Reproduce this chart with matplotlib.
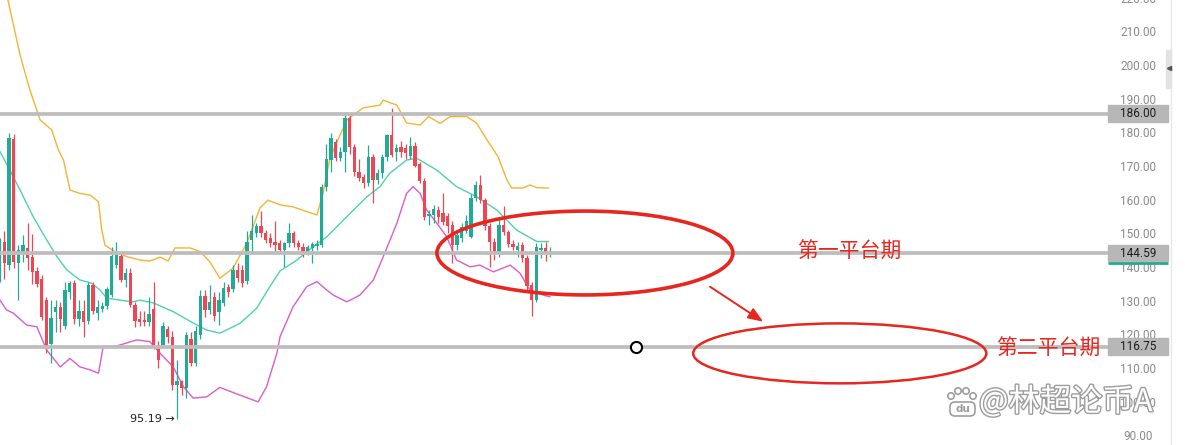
import numpy as np
import matplotlib
matplotlib.use("Agg")
import matplotlib.pyplot as plt
from matplotlib.patches import Ellipse, Rectangle, Circle, FancyBboxPatch
from matplotlib.transforms import IdentityTransform
import matplotlib.patheffects as pe

# ---------------- data ----------------
opens = [137.2, 148.0, 141.0, 178.5, 141.7, 144.5, 146.0, 143.3, 139.4, 136.9,
         130.7, 117.5, 127.0, 128.5, 122.8, 133.1, 135.7, 125.0, 127.3, 124.5,
         135.0, 126.8, 128.0, 129.0, 132.2, 141.0, 143.6, 136.6, 138.6, 129.2,
         125.0, 124.8, 124.0, 128.0, 117.3, 117.4, 122.0, 119.8, 105.5, 106.5,
         104.5, 119.0, 112.0, 120.3, 131.7, 127.7, 131.5, 127.2, 129.8, 134.5,
         134.0, 139.6, 139.5, 136.2, 148.5, 150.5, 152.5, 150.5, 149.0, 148.0,
         147.5, 145.5, 147.5, 150.5, 147.5, 146.5, 145.0, 146.0, 146.8, 147.0,
         164.3, 172.3, 177.7, 172.8, 174.7, 184.6, 176.2, 168.8, 167.3, 165.3,
         173.2, 166.3, 168.3, 173.2, 179.5, 174.7, 176.2, 175.7, 173.5, 176.5,
         171.0, 166.0, 155.5, 156.0, 157.5, 156.5, 155.5, 153.0, 147.0, 149.0,
         151.2, 149.5, 160.9, 164.8, 160.4, 152.5, 148.0, 144.6, 153.0, 150.7,
         147.4, 145.5, 147.0, 143.1, 135.2, 130.7, 145.5, 146.2, 144.3]
highs = [149.0, 151.0, 180.2, 180.0, 147.0, 150.0, 153.5, 150.3, 140.5, 138.0,
         131.5, 130.7, 130.7, 130.0, 135.9, 136.2, 136.5, 130.5, 130.5, 136.0,
         136.0, 130.5, 130.0, 134.5, 146.5, 148.0, 145.0, 140.0, 140.0, 130.0,
         127.5, 127.5, 131.5, 136.1, 118.5, 124.0, 123.0, 121.5, 112.8, 107.0,
         121.0, 121.0, 123.0, 133.5, 133.5, 135.0, 133.0, 133.0, 136.0, 135.5,
         141.0, 141.5, 141.0, 151.0, 156.0, 153.5, 157.0, 151.5, 150.5, 154.0,
         148.5, 148.0, 153.5, 151.0, 148.5, 147.5, 147.0, 148.0, 148.5, 165.0,
         177.0, 180.2, 178.5, 176.0, 185.5, 185.5, 177.0, 172.5, 168.0, 176.7,
         174.0, 169.5, 174.0, 180.0, 187.6, 177.0, 178.0, 177.0, 179.0, 177.5,
         171.5, 167.0, 157.5, 159.0, 158.5, 162.5, 156.5, 154.0, 151.5, 153.5,
         156.0, 162.0, 166.0, 167.8, 161.0, 153.5, 149.0, 155.0, 158.5, 151.5,
         148.5, 148.0, 148.0, 144.0, 136.0, 147.5, 147.5, 147.8, 146.5]
lows = [136.0, 137.0, 139.6, 140.2, 130.7, 142.0, 139.6, 135.5, 134.5, 124.7,
        115.0, 112.0, 121.0, 121.0, 122.0, 131.0, 123.5, 123.0, 119.6, 123.5,
        126.5, 124.8, 127.0, 128.0, 131.5, 140.0, 135.9, 134.5, 128.5, 122.5,
        123.0, 123.0, 123.0, 116.0, 110.5, 116.5, 118.0, 104.0, 95.19, 102.5,
        101.6, 111.0, 111.0, 119.0, 125.5, 126.5, 124.5, 123.2, 129.0, 131.5,
        133.0, 136.0, 134.5, 135.5, 145.0, 149.5, 149.5, 147.5, 146.5, 145.0,
        145.0, 140.5, 146.5, 146.5, 145.5, 143.5, 144.0, 141.5, 145.5, 146.5,
        163.0, 168.8, 172.0, 172.0, 168.7, 174.0, 167.5, 166.0, 164.0, 164.5,
        159.5, 165.0, 167.0, 172.0, 173.0, 172.0, 173.0, 172.5, 172.5, 170.0,
        165.5, 154.5, 152.9, 153.5, 153.5, 153.0, 150.5, 141.5, 145.5, 148.0,
        150.5, 149.0, 160.0, 159.5, 151.5, 140.5, 142.5, 143.5, 150.0, 146.5,
        145.5, 143.5, 142.0, 133.5, 125.8, 130.0, 143.0, 142.3, 143.5]
closes = [148.1, 141.7, 178.7, 142.0, 145.5, 147.0, 143.0, 138.9, 135.5, 125.7,
          116.9, 125.4, 128.5, 125.0, 133.6, 135.7, 124.9, 127.5, 124.0, 135.0,
          127.5, 128.6, 129.0, 134.0, 143.6, 143.9, 136.6, 138.6, 129.2, 124.3,
          124.0, 124.2, 126.5, 117.2, 112.8, 122.8, 119.6, 105.5, 106.5, 104.5,
          120.3, 112.0, 121.5, 131.7, 127.8, 130.2, 125.8, 130.7, 134.3, 133.0,
          139.5, 137.2, 135.7, 148.0, 151.0, 152.5, 150.5, 148.5, 147.5, 147.0,
          145.5, 147.5, 150.5, 147.5, 146.4, 145.0, 146.5, 147.4, 147.4, 164.3,
          172.5, 178.7, 172.8, 174.7, 184.6, 176.2, 168.8, 167.0, 165.3, 173.2,
          166.3, 168.3, 173.2, 179.5, 173.7, 175.7, 174.7, 174.2, 176.5, 170.5,
          166.0, 155.4, 156.3, 157.8, 155.2, 153.9, 152.7, 147.0, 150.0, 152.4,
          154.0, 160.9, 164.8, 160.4, 152.5, 148.0, 145.0, 153.0, 150.7, 147.4,
          146.5, 146.8, 143.1, 134.7, 130.7, 146.5, 146.2, 144.4, 144.59]

# Bollinger bands (bar position, price)
upper_x = [0.1, 1.8, 4.4, 6.5, 8.7, 11.2, 12.6, 13.7, 15.1, 17.2, 19.4, 21.2, 21.9, 22.6,
           24.7, 27.3, 30.1, 32.2, 34.4, 36.1, 37.6, 40.8, 43.0, 45.1, 47.2, 50.0, 53.0,
           55.8, 57.5, 60.1, 62.9, 65.8, 68.0, 69.3, 70.8, 72.2, 74.4, 77.9, 81.5, 82.2,
           85.1, 87.2, 90.1, 91.9, 94.4, 96.5, 100.1, 102.2, 104.4, 106.8, 108.7, 109.7,
           112.1, 113.6, 115.1, 117.6]
upper_y = [225.7, 219.7, 203.4, 193.0, 184.1, 181.1, 175.2, 172.2, 163.3, 162.3, 161.8,
           159.8, 151.4, 146.9, 145.0, 143.5, 142.5, 142.2, 143.4, 142.2, 146.1, 146.1,
           145.0, 141.9, 137.1, 140.1, 147.6, 158.0, 160.3, 158.9, 158.3, 156.9, 155.9,
           162.4, 172.8, 177.3, 184.1, 187.7, 188.5, 190.0, 188.5, 183.2, 182.6, 185.1,
           183.1, 185.1, 185.1, 183.2, 178.2, 173.2, 166.3, 163.9, 163.9, 164.8, 164.0,
           163.9]
middle_x = [0.1, 2.2, 4.4, 7.2, 10.1, 12.3, 14.4, 17.2, 19.8, 21.5, 23.0, 25.8, 28.7, 30.1,
            32.9, 37.2, 41.5, 44.4, 47.2, 51.5, 55.1, 57.9, 60.1, 63.7, 67.2, 70.1, 74.4,
            78.7, 81.5, 83.6, 87.2, 89.4, 93.7, 97.9, 102.2, 106.5, 110.8, 115.1, 117.6]
middle_y = [174.7, 169.2, 163.3, 155.4, 148.5, 143.5, 139.6, 136.6, 135.6, 133.6, 131.2,
            130.6, 130.1, 130.6, 129.8, 127.2, 123.8, 121.7, 120.8, 123.7, 128.2, 134.6,
            139.3, 142.5, 146.5, 149.4, 155.4, 161.3, 164.3, 168.3, 172.2, 172.7, 169.2,
            164.3, 161.3, 157.4, 151.4, 148.0, 148.0]
lower_x = [0.1, 1.5, 3.0, 5.8, 8.0, 10.1, 13.0, 15.1, 17.2, 19.4, 21.2, 22.2, 25.1, 29.4,
           32.2, 34.4, 37.2, 39.4, 41.5, 44.4, 47.2, 51.5, 55.4, 57.2, 59.4, 60.1, 62.9,
           65.8, 68.0, 70.1, 71.5, 74.4, 77.2, 80.1, 82.2, 85.1, 87.2, 88.6, 90.1, 91.5,
           93.7, 95.8, 97.9, 100.8, 102.9, 105.8, 109.4, 111.5, 113.6, 116.5, 117.9]
lower_y = [130.6, 127.7, 126.7, 123.2, 122.7, 115.8, 110.8, 113.3, 110.8, 109.9, 108.9,
           116.8, 117.0, 118.8, 118.3, 114.8, 110.8, 104.9, 101.5, 101.9, 104.7, 102.4,
           100.4, 104.9, 114.8, 119.8, 128.7, 134.6, 136.1, 133.6, 132.1, 130.1, 132.1,
           136.6, 143.5, 153.4, 162.3, 164.3, 162.3, 157.4, 153.4, 149.4, 142.5, 140.5,
           141.0, 139.0, 141.0, 138.6, 133.6, 132.1, 131.6]

levels = [186.00, 144.59, 116.75]
scale_levels = [90, 100, 110, 120, 130, 140, 150, 160, 170, 180, 190, 200, 210, 220]
low_label = 95.19
phase_labels = ["第一平台期", "第二平台期"]
watermark = "@林超论币A"

# ---------------- style ----------------
UP, DOWN = "#22ab94", "#ef4655"
RED = "#e6261f"
LEVEL_GREY = "#bdbdbd"
CJK = ["Noto Sans CJK SC", "DejaVu Sans"]

W, H, DPI = 1185, 445, 100
PX_PER_BAR = 4.668
PX_PER_UNIT = 3.368
REF_PX, REF_PRICE = 268.5, 140.0
PLOT_W = 1110

def price_at(px_y):
    return REF_PRICE + (REF_PX - px_y) / PX_PER_UNIT

fig = plt.figure(figsize=(W / DPI, H / DPI), dpi=DPI)
fig.patch.set_facecolor("white")

ax = fig.add_axes([0, 0, PLOT_W / W, 1])
x0 = 0.1
ax.set_xlim(x0, x0 + PLOT_W / PX_PER_BAR)
ax.set_ylim(price_at(H), price_at(0))
ax.axis("off")

# bands
ax.plot(upper_x, upper_y, color="#f5b335", lw=1.0, zorder=2)
ax.plot(middle_x, middle_y, color="#4cd2ad", lw=1.0, zorder=2)
ax.plot(lower_x, lower_y, color="#db5ccb", lw=1.0, zorder=2)

# candles
o = np.array(opens); h = np.array(highs); l = np.array(lows); c = np.array(closes)
idx = np.arange(len(c))
cols = np.where(c >= o, UP, DOWN)
ax.vlines(idx, l, h, colors=cols, lw=0.9, zorder=3)
ax.bar(idx, np.maximum(np.abs(c - o), 0.35), bottom=np.minimum(o, c), width=0.7,
       color=cols, linewidth=0, zorder=3.1)

# horizontal price levels
for lv in levels:
    ax.axhline(lv, color=LEVEL_GREY, lw=2.7, zorder=4)

# low marker text
ax.text(38 - 0.4, low_label, f"{low_label:.2f} \u2192", ha="right", va="center",
        fontsize=8, color="#1e1e1e", family="DejaVu Sans", zorder=5)

# annotations
ax.add_patch(Ellipse((125.4, 144.6), 63.4, 24.9, fill=False, ec=RED, lw=2.6, zorder=6))
ax.add_patch(Ellipse((180.0, 114.8), 62.8, 17.8, fill=False, ec=RED, lw=1.8, zorder=6))
ax.annotate("", xy=(163.6, 124.2), xytext=(152.2, 134.6),
            arrowprops=dict(arrowstyle="-|>,head_length=0.9,head_width=0.35",
                            color=RED, lw=1.4, shrinkA=0, shrinkB=0), zorder=6)
ax.plot([136.35], [levels[2]], "o", ms=8, mfc="white", mec="black", mew=1.5, zorder=6)
ax.text(182.0, 144.9, phase_labels[0], color=RED, fontsize=15, ha="center", va="center",
        family=CJK, zorder=6)
ax.text(224.6, 116.1, phase_labels[1], color=RED, fontsize=15, ha="center", va="center",
        family=CJK, zorder=6)

# ---------------- price scale ----------------
sax = fig.add_axes([1100 / W, 0, 85 / W, 1])
sax.set_xlim(1100, 1185)
sax.set_ylim(price_at(H), price_at(0))
sax.axis("off")
sax.patch.set_alpha(0)

for v in scale_levels:
    sax.text(1138, v, f"{v:.2f}", ha="center", va="center", fontsize=8.5,
             color="#8a8a8a", family="Roboto", clip_on=False, zorder=2)

half_h = 8.4 / PX_PER_UNIT
for lv in levels:
    sax.add_patch(Rectangle((1108, lv - half_h), 60, 2 * half_h, color="#b7b7b7", zorder=3))
    sax.text(1138, lv, f"{lv:.2f}", ha="center", va="center", fontsize=8.5,
             color="#1c1c1c", family="Roboto", zorder=4)
# last price marker under the current level box
sax.plot([1108, 1168], [levels[1] - half_h - 0.45] * 2, color=UP, lw=2.0,
         solid_capstyle="butt", zorder=4)

sax.axvline(1171, color="#e8e8e8", lw=1.0, zorder=1)
sax.add_patch(Rectangle((1166, price_at(88)), 5, price_at(50) - price_at(88),
                        color="#e2e2e2", zorder=2))
sax.plot([1168.8], [price_at(68)], marker="<", ms=3, color="#555555", zorder=3)

# ---------------- watermark ----------------
stroke = [pe.Stroke(linewidth=2.0, foreground="#9d9d9d"), pe.Normal()]
fig.text(979, H - 402, watermark, transform=IdentityTransform(), fontsize=22.5,
         color="white", family=CJK, ha="left", va="center", path_effects=stroke, zorder=10)
for cx, cy, r in [(951, 396, 3.2), (958, 391, 3.2), (966, 391, 3.2), (973, 396, 3.2)]:
    fig.add_artist(Circle((cx, H - cy), r, transform=IdentityTransform(),
                          fc="white", ec="#9d9d9d", lw=1.2, zorder=10))
fig.add_artist(FancyBboxPatch((950, H - 416), 25, 14, boxstyle="round,pad=0,rounding_size=5",
                              transform=IdentityTransform(), fc="white", ec="#9d9d9d",
                              lw=1.2, zorder=10))
fig.text(962.5, H - 409.5, "du", transform=IdentityTransform(), fontsize=7.5,
         color="#9d9d9d", ha="center", va="center", family="DejaVu Sans",
         fontweight="bold", zorder=11)

fig.savefig("out.png", dpi=DPI, facecolor="white")
